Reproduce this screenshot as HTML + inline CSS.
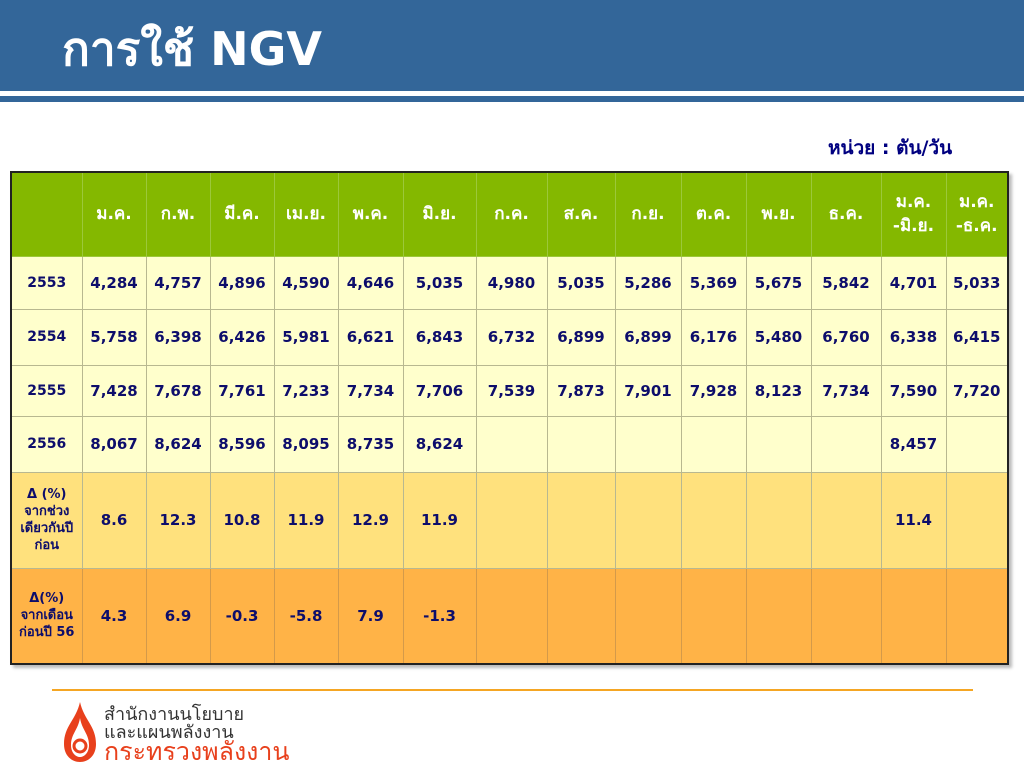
<!DOCTYPE html>
<html><head><meta charset="utf-8">
<style>
body{margin:0;width:1024px;height:768px;position:relative;background:#fff;font-family:"DejaVu Sans","Noto Sans CJK SC",sans-serif;overflow:hidden}
#hdr{position:absolute;left:0;top:0;width:1024px;height:91px;background:#336699}
#stripe{position:absolute;left:0;top:96px;width:1024px;height:6px;background:#336699}
#title{position:absolute;left:62px;top:18px;color:#fff;font-size:46px;font-weight:bold;font-family:"DejaVu Sans",sans-serif;line-height:62px}
#unit{position:absolute;left:828px;top:133px;color:#000080;font-size:19px;font-weight:bold}
table{position:absolute;left:10px;top:171px;border-collapse:collapse;table-layout:fixed;border:2px solid #222;box-shadow:3px 3px 3px #bbb}
td{border:1px solid #b8b890;text-align:center;color:#0d0d6b;font-weight:bold;font-size:15px;padding:0;overflow:hidden;white-space:nowrap}
tr.h td{background:#84b800;color:#fff;font-weight:bold;font-size:17px;border-color:#9cc83a;line-height:24px}
tr.d td{background:#ffffcc}
tr.p1 td{background:#ffe17d}
tr.p2 td{background:#ffb347;border-color:#d49a4a}
td.lab{font-size:14px}
td.small{font-size:13px;line-height:17px;white-space:normal}
#oline{position:absolute;left:52px;top:689px;width:921px;height:2px;background:#f5a623}
.ft{position:absolute;left:104px;font-size:18px;color:#333;line-height:19px}
</style></head><body>
<div id="hdr"></div>
<div id="stripe"></div>
<div id="title">การใช้ NGV</div>
<div id="unit">หน่วย : ตัน/วัน</div>
<table id="tbl"></table>
<div id="oline"></div>
<svg style="position:absolute;left:58px;top:700px" width="44" height="64">
<path d="M22 2 C18 20 6 26 6 44 C6 56 14 62 22 62 C30 62 38 56 38 44 C38 26 26 20 22 2Z" fill="#e8401c"/>
<path d="M22 18 C20 30 13 34 13 45 C13 53 18 57 22 57 C26 57 31 53 31 45 C31 34 24 30 22 18Z" fill="#fff"/>
<circle cx="22" cy="46" r="6" fill="none" stroke="#e8401c" stroke-width="3"/>
</svg>
<div class="ft" style="top:705px">สำนักงานนโยบาย</div>
<div class="ft" style="top:723px">และแผนพลังงาน</div>
<div class="ft" style="top:738px;font-size:25px;color:#e8401c;line-height:28px">กระทรวงพลังงาน</div>
<script>
const months=["ม.ค.","ก.พ.","มี.ค.","เม.ย.","พ.ค.","มิ.ย.","ก.ค.","ส.ค.","ก.ย.","ต.ค.","พ.ย.","ธ.ค.","ม.ค.<br>-มิ.ย.","ม.ค.<br>-ธ.ค."];
const years=["2553","2554","2555","2556"];
const v2553=["4,284","4,757","4,896","4,590","4,646","5,035","4,980","5,035","5,286","5,369","5,675","5,842","4,701","5,033"];
const v2554=["5,758","6,398","6,426","5,981","6,621","6,843","6,732","6,899","6,899","6,176","5,480","6,760","6,338","6,415"];
const v2555=["7,428","7,678","7,761","7,233","7,734","7,706","7,539","7,873","7,901","7,928","8,123","7,734","7,590","7,720"];
const v2556=["8,067","8,624","8,596","8,095","8,735","8,624","","","","","","","8,457",""];
const yoy=["8.6","12.3","10.8","11.9","12.9","11.9","","","","","","","11.4",""];
const mom=["4.3","6.9","-0.3","-5.8","7.9","-1.3","","","","","","","",""];
const widths=[71,64,64,64,64,65,73,71,68,66,65,65,70,65,62];
const heights=[84,53,56,51,56,96,96];
const tbl=document.getElementById('tbl');
const cg=document.createElement('colgroup');
widths.forEach(w=>{const c=document.createElement('col');c.style.width=w+'px';cg.appendChild(c);});
tbl.appendChild(cg);
function row(cls,label,vals,h,name,labCls){
  const tr=document.createElement('tr');tr.className=cls;tr.style.height=h+'px';
  
  
  const l=document.createElement('td');l.innerHTML=label;l.className=labCls||'lab';
  
  
  tr.appendChild(l);
  vals.forEach((v,i)=>{const td=document.createElement('td');td.innerHTML=v;
    
    
    tr.appendChild(td);});
  tbl.appendChild(tr);
}
row('h','',months,heights[0],'header-row');
const data=[v2553,v2554,v2555,v2556];
years.forEach((y,i)=>row('d',y,data[i],heights[i+1],'row-'+y));
row('p1','Δ (%)<br>จากช่วง<br>เดียวกันปี<br>ก่อน',yoy,heights[5],'row-yoy-change','small');
row('p2','Δ(%)<br>จากเดือน<br>ก่อนปี 56',mom,heights[6],'row-mom-change','small');
</script>
</body></html>
